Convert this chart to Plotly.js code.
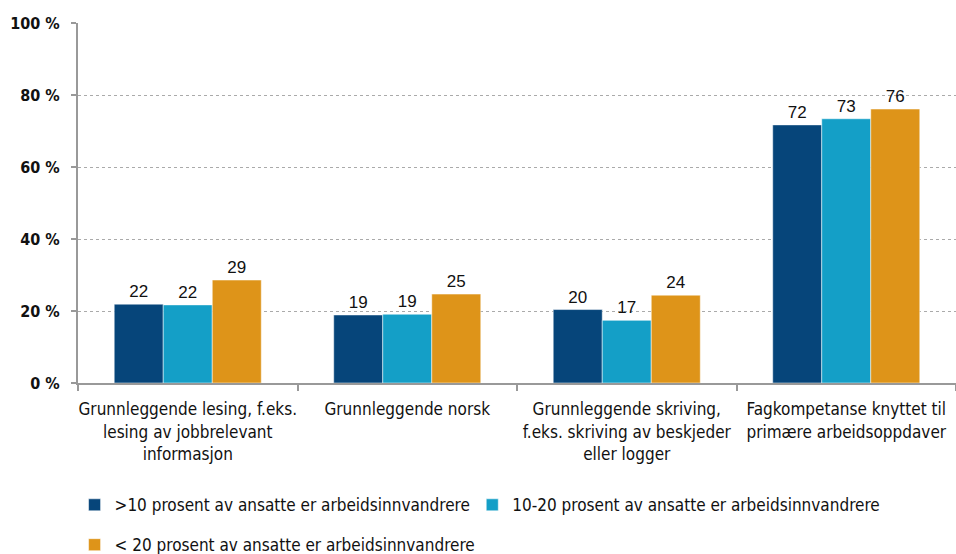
<!DOCTYPE html>
<html>
<head>
<meta charset="utf-8">
<script src="https://cdn.plot.ly/plotly-3.0.1.min.js"></script>
<style>
  body { margin: 0; background: #fff; }
  #chart { width: 956px; height: 554px; }
</style>
</head>
<body>
<div id="chart"></div>
<script>
var categories = [
  "Grunnleggende lesing, f.eks.<br>lesing av jobbrelevant<br>informasjon",
  "Grunnleggende norsk",
  "Grunnleggende skriving,<br>f.eks. skriving av beskjeder<br>eller logger",
  "Fagkompetanse knyttet til<br>primære arbeidsoppdaver"
];
var seriesNames = [
  ">10 prosent av ansatte er arbeidsinnvandrere",
  "10-20 prosent av ansatte er arbeidsinnvandrere",
  "< 20 prosent av ansatte er arbeidsinnvandrere"
];
var under10 = [21.9, 18.9, 20.4, 71.7];
var from10to20 = [21.7, 19.1, 17.4, 73.4];
var over20 = [28.6, 24.7, 24.4, 76.1];

var colors = ["#06457a", "#149fc7", "#de9419"];
var condensed = "'DejaVu Sans Condensed', 'DejaVu Sans', sans-serif";

var values = [under10, from10to20, over20];
var legends = ["legend", "legend2", "legend3"];

var data = values.map(function (v, i) {
  return {
    x: categories,
    y: v,
    name: seriesNames[i],
    type: "bar",
    legend: legends[i],
    marker: { color: colors[i], line: { color: "#ffffff", width: 0.5 } },
    texttemplate: "%{y:.0f}",
    textposition: "outside",
    cliponaxis: false,
    textfont: { family: "'Liberation Sans', Arial, sans-serif", size: 17, color: "#111" },
    hoverinfo: "y"
  };
});

var legendFont = { family: condensed, size: 17, color: "#111" };
function legendAt(x, y) {
  return {
    orientation: "h",
    xref: "container",
    yref: "container",
    x: x,
    y: y,
    yanchor: "middle",
    bgcolor: "rgba(0,0,0,0)",
    font: legendFont,
    itemwidth: 30
  };
}

var layout = {
  width: 956,
  height: 554,
  margin: { l: 78, r: 0, t: 23, b: 171 },
  paper_bgcolor: "#fff",
  plot_bgcolor: "#fff",
  font: { family: condensed, size: 16, color: "#111" },
  barmode: "group",
  bargap: 0.33,
  bargroupgap: 0,
  xaxis: {
    showline: true,
    linecolor: "#999",
    linewidth: 2,
    ticks: "outside",
    tickson: "boundaries",
    ticklen: 6,
    tickcolor: "#999",
    tickwidth: 2,
    tickangle: 0,
    ticklabelstandoff: 10,
    tickfont: { family: condensed, size: 17, color: "#111" }
  },
  yaxis: {
    range: [0, 100],
    dtick: 20,
    ticksuffix: " %",
    showline: true,
    linecolor: "#999",
    linewidth: 2,
    ticks: "outside",
    ticklen: 5,
    tickcolor: "#999",
    tickwidth: 2,
    ticklabelstandoff: 8,
    showgrid: true,
    gridcolor: "#aaa",
    griddash: "dot",
    gridwidth: 1,
    zeroline: false,
    tickfont: { family: condensed, size: 16, color: "#111", weight: "bold" }
  },
  legend: legendAt(0.078, 0.088),
  legend2: legendAt(0.494, 0.088),
  legend3: legendAt(0.078, 0.016),
  showlegend: true
};

Plotly.newPlot("chart", data, layout, { displayModeBar: false });
</script>
</body>
</html>
